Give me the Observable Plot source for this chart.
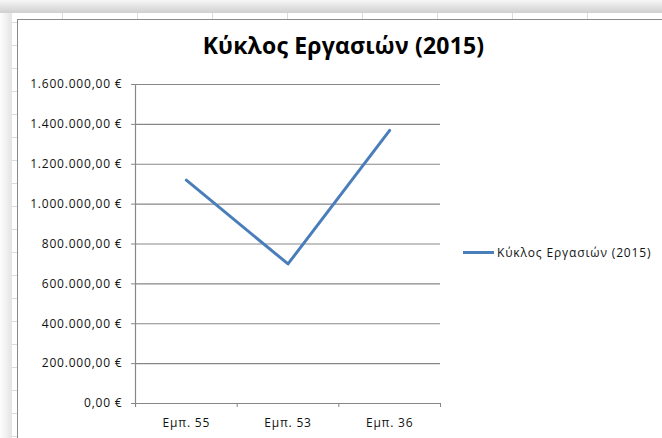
<!DOCTYPE html>
<html>
<head>
<meta charset="utf-8">
<script src="https://cdn.jsdelivr.net/npm/d3@7"></script>
<script src="https://cdn.jsdelivr.net/npm/@observablehq/plot@0.6"></script>
<style>
  html, body { margin: 0; padding: 0; background: #fff; }
  #wrap { position: relative; width: 662px; height: 438px; overflow: hidden; background: #fff; font-family: "Open Sans", sans-serif; }
  #shadowTop { position: absolute; left: 0; top: 0; width: 662px; height: 13px; background: linear-gradient(#f7f7f7, #cfcfcf); }
  #shadowLeft { position: absolute; left: 0; top: 13px; width: 12px; height: 425px; background: linear-gradient(90deg, #fdfdfd, #e4e4e4); }
  #sheet { position: absolute; left: 12px; top: 13px; right: 0; bottom: 0; background-color: #fff;
    background-image:
      repeating-linear-gradient(90deg, transparent 0 50px, #d8dbe6 50px 51px, transparent 51px 75px),
      repeating-linear-gradient(180deg, transparent 0 9px, #d8dbe6 9px 10px, transparent 10px 23px); }
  #box { position: absolute; left: 17px; top: 19px; width: 700px; height: 500px; background: #fff; border-left: 1.5px solid #8a8a8a; border-top: 1.5px solid #8a8a8a; }
  #chart { position: absolute; left: 0; top: 0; }
  #title { position: absolute; left: 0; width: 687px; top: 29px; text-align: center; font-weight: 700; font-size: 23px; letter-spacing: 0.2px; color: #000; white-space: nowrap; }
  #legend { position: absolute; left: 463px; top: 244px; display: flex; align-items: center; font-size: 12px; letter-spacing: 0.85px; color: #111; white-space: nowrap; }
  #legend .sw { width: 31px; height: 3px; background: #4a7ebb; margin-right: 3px; }
</style>
</head>
<body>
<div id="wrap">
  <div id="shadowTop"></div>
  <div id="shadowLeft"></div>
  <div id="sheet"></div>
  <div id="box"></div>
  <div id="chart"></div>
  <div id="title"></div>
  <div id="legend"><div class="sw"></div><span id="legtext"></span></div>
</div>
<script>
// ---- data ----
const chartTitle = "Κύκλος Εργασιών (2015)";
const seriesName = "Κύκλος Εργασιών (2015)";
const categories = ["Εμπ. 55", "Εμπ. 53", "Εμπ. 36"];
const values = [1120000, 700000, 1370000];
const yTicks = [0, 200000, 400000, 600000, 800000, 1000000, 1200000, 1400000, 1600000];

// ---- build ----
const rows = categories.map((c, i) => ({category: c, pos: i + 0.5, value: values[i]}));
const boundaries = d3.range(categories.length + 1);
const centers = categories.map((c, i) => i + 0.5);

const locale = d3.formatLocale({decimal: ",", thousands: ".", grouping: [3], currency: ["", " €"]});
const fmt = locale.format("$,.2f");

document.getElementById("title").textContent = chartTitle;
document.getElementById("legtext").textContent = seriesName;

const axisColor = "#878787";
const plot = Plot.plot({
  width: 662,
  height: 438,
  marginLeft: 135,
  marginRight: 222,
  marginTop: 84,
  marginBottom: 35,
  style: {background: "transparent", fontFamily: "'Open Sans', sans-serif", fontSize: "12px", letterSpacing: "0.8px", color: "#111", overflow: "visible"},
  x: {type: "linear", domain: [0, categories.length]},
  y: {domain: [0, d3.max(yTicks)]},
  marks: [
    Plot.gridY(yTicks, {stroke: axisColor, strokeOpacity: 1, strokeWidth: 1.2}),
    Plot.ruleX([0], {stroke: axisColor, strokeWidth: 1.2, insetBottom: -4}),
    Plot.axisY(yTicks, {tickSize: 4, tickPadding: 9, tickFormat: fmt, stroke: axisColor, fill: "#111", strokeOpacity: 1, label: null}),
    Plot.axisX(boundaries, {tickSize: 4, tickFormat: () => "", stroke: axisColor, strokeOpacity: 1, label: null}),
    Plot.axisX(centers, {tickSize: 0, tickPadding: 15, tickFormat: (d) => categories[Math.floor(d)], fill: "#111", label: null}),
    Plot.line(rows, {x: "pos", y: "value", stroke: "#4a7ebb", strokeWidth: 3, strokeLinecap: "round", strokeLinejoin: "round"})
  ]
});
document.getElementById("chart").appendChild(plot);
</script>
</body>
</html>
